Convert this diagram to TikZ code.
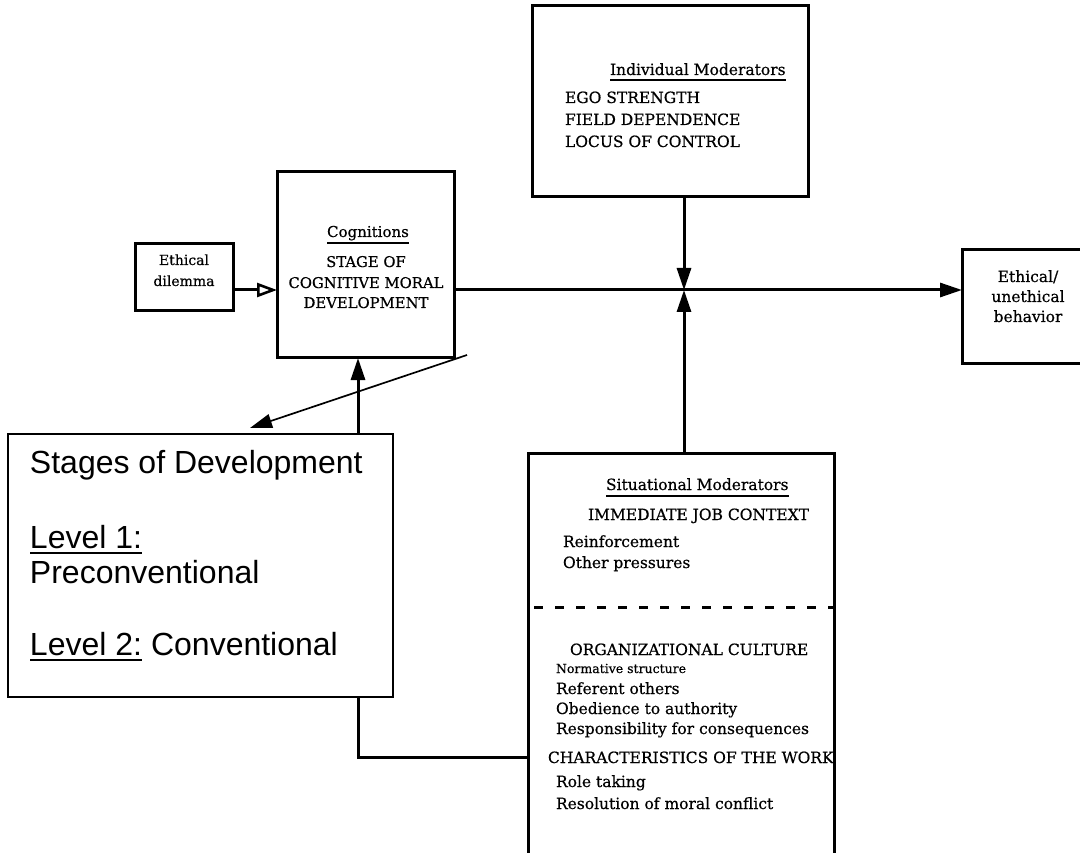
\documentclass[tikz,border=0pt]{standalone}
\usepackage{fontspec}
\setmainfont{DejaVu Serif}[FakeBold=0.5]
\newfontfamily\arialf{Liberation Sans}
\usetikzlibrary{arrows.meta,calc}
\begin{document}
\begin{tikzpicture}[x=1pt,y=-1pt,
  box/.style={draw, line width=3pt, inner sep=0pt, outer sep=0pt},
  thinbox/.style={draw, line width=1.4pt, inner sep=0pt, outer sep=0pt},
  lbl/.style={inner sep=0pt, outer sep=0pt, font=\fontsize{15.5}{17}\selectfont},
  lblw/.style={lbl, anchor=base west},
  lblc/.style={lbl, anchor=base},
  small/.style={lblw, font=\fontsize{12.5}{14}\selectfont},
  big/.style={inner sep=0pt, outer sep=0pt, anchor=base west, font=\arialf\fontsize{32}{36}\selectfont},
  conn/.style={line width=3pt},
  tip/.style={-{Triangle[length=22pt,width=14pt]}},
  opentip/.style={-{Triangle[open,length=20pt,width=14pt,line width=2.6pt]}},
  ul/.style={line width=1.8pt},
  ulthin/.style={line width=1.5pt}
]
\useasboundingbox (0,0) rectangle (1080,853);
\clip (0,0) rectangle (1080,853);
\fill[white] (0,0) rectangle (1080,853);

% boxes
\node[box, minimum width=276pt, minimum height=191pt] (ind) at (670,101.5) {};
\node[box, minimum width=177pt, minimum height=186pt] (cog) at (365.5,265) {};
\node[box, minimum width=98pt, minimum height=67pt] (dil) at (184,277.5) {};
\node[box, minimum width=148pt, minimum height=113pt] (eth) at (1036,306.5) {};
\node[box, minimum width=306pt, minimum height=427pt] (sit) at (681,666.5) {};
\node[thinbox, minimum width=385pt, minimum height=263pt] (stg) at (200.5,565.5) {};

% Individual moderators
\node[lblw] (indt) at (610,75) {Individual Moderators};
\draw[ul] ([yshift=-5pt]indt.base west) -- ([yshift=-5pt]indt.base east);
\node[lblw] (ind1) at (565,103) {EGO STRENGTH};
\node[lblw] (ind2) at (565,125) {FIELD DEPENDENCE};
\node[lblw] (ind3) at (565,147) {LOCUS OF CONTROL};

% Cognitions
\node[lblc, font=\fontsize{15}{17}\selectfont] (cogt) at (368,237) {Cognitions};
\draw[ul] ([yshift=-6pt]cogt.base west) -- ([yshift=-6pt]cogt.base east);
\node[lblc, font=\fontsize{14.8}{17}\selectfont] (cog1) at (366,267) {STAGE OF};
\node[lblc, font=\fontsize{14.8}{17}\selectfont] (cog2) at (366,288) {COGNITIVE MORAL};
\node[lblc, font=\fontsize{14.8}{17}\selectfont] (cog3) at (366,308) {DEVELOPMENT};

% Ethical dilemma
\node[lblc, font=\fontsize{14}{15}\selectfont] (dil1) at (184,265) {Ethical};
\node[lblc, font=\fontsize{14}{15}\selectfont] (dil2) at (184,286) {dilemma};

% Ethical / unethical behavior
\node[lblc] (eth1) at (1028,282) {Ethical/};
\node[lblc] (eth2) at (1028,302) {unethical};
\node[lblc] (eth3) at (1028,322) {behavior};

% Situational moderators
\node[lblw] (sitt) at (606,490) {Situational Moderators};
\draw[ul] ([yshift=-6pt]sitt.base west) -- ([yshift=-6pt]sitt.base east);
\node[lblw] (s1) at (588,520) {IMMEDIATE JOB CONTEXT};
\node[lblw] (s2) at (563,547) {Reinforcement};
\node[lblw] (s3) at (563,568) {Other pressures};
\node[lblw] (s4) at (570,655) {ORGANIZATIONAL CULTURE};
\node[small] (s5) at (556,673) {Normative structure};
\node[lblw] (s6) at (556,694) {Referent others};
\node[lblw] (s7) at (556,714) {Obedience to authority};
\node[lblw] (s8) at (556,734) {Responsibility for consequences};
\node[lblw] (s9) at (548,763) {CHARACTERISTICS OF THE WORK};
\node[lblw] (s10) at (556,787) {Role taking};
\node[lblw] (s11) at (556,809) {Resolution of moral conflict};
\coordinate (dsh) at (0,607);
\draw[conn, dash pattern=on 9pt off 12pt, dash phase=-6pt] (sit.west |- dsh) -- (sit.east |- dsh);

% Stages of development
\node[big] (g1) at (30,473) {Stages of Development};
\node[big] (g2) at (30,548) {Level 1:};
\draw[ulthin] ([yshift=-5pt]g2.base west) -- ([yshift=-5pt]g2.base east);
\node[big] (g3) at (30,583) {Preconventional};
\node[big] (g4) at (30,655) {Level 2:};
\draw[ulthin] ([yshift=-5pt]g4.base west) -- ([yshift=-5pt]g4.base east);
\node[big] (g5) at ([xshift=9pt]g4.base east) {Conventional};

% connectors
\coordinate (j) at (684,290);
\coordinate (vx) at (358,0);
\coordinate (hy) at (0,757);
\coordinate (d0) at (467,355);
\coordinate (d1) at (250,428);
\draw[conn, opentip] (dil.east |- j) -- (cog.west |- j);
\draw[conn, tip] (ind.south -| j) -- (j);
\draw[conn, tip] (sit.north -| j) -- (j);
\draw[conn, tip] (cog.east |- j) -- (eth.west |- j);
\draw[conn, tip] (stg.north -| vx) -- (cog.south -| vx);
\draw[conn] (stg.south -| vx) |- (sit.west |- hy);
\draw[line width=1.7pt, -{Triangle[length=22pt,width=14pt]}] (d0) -- (d1);
\end{tikzpicture}
\end{document}
